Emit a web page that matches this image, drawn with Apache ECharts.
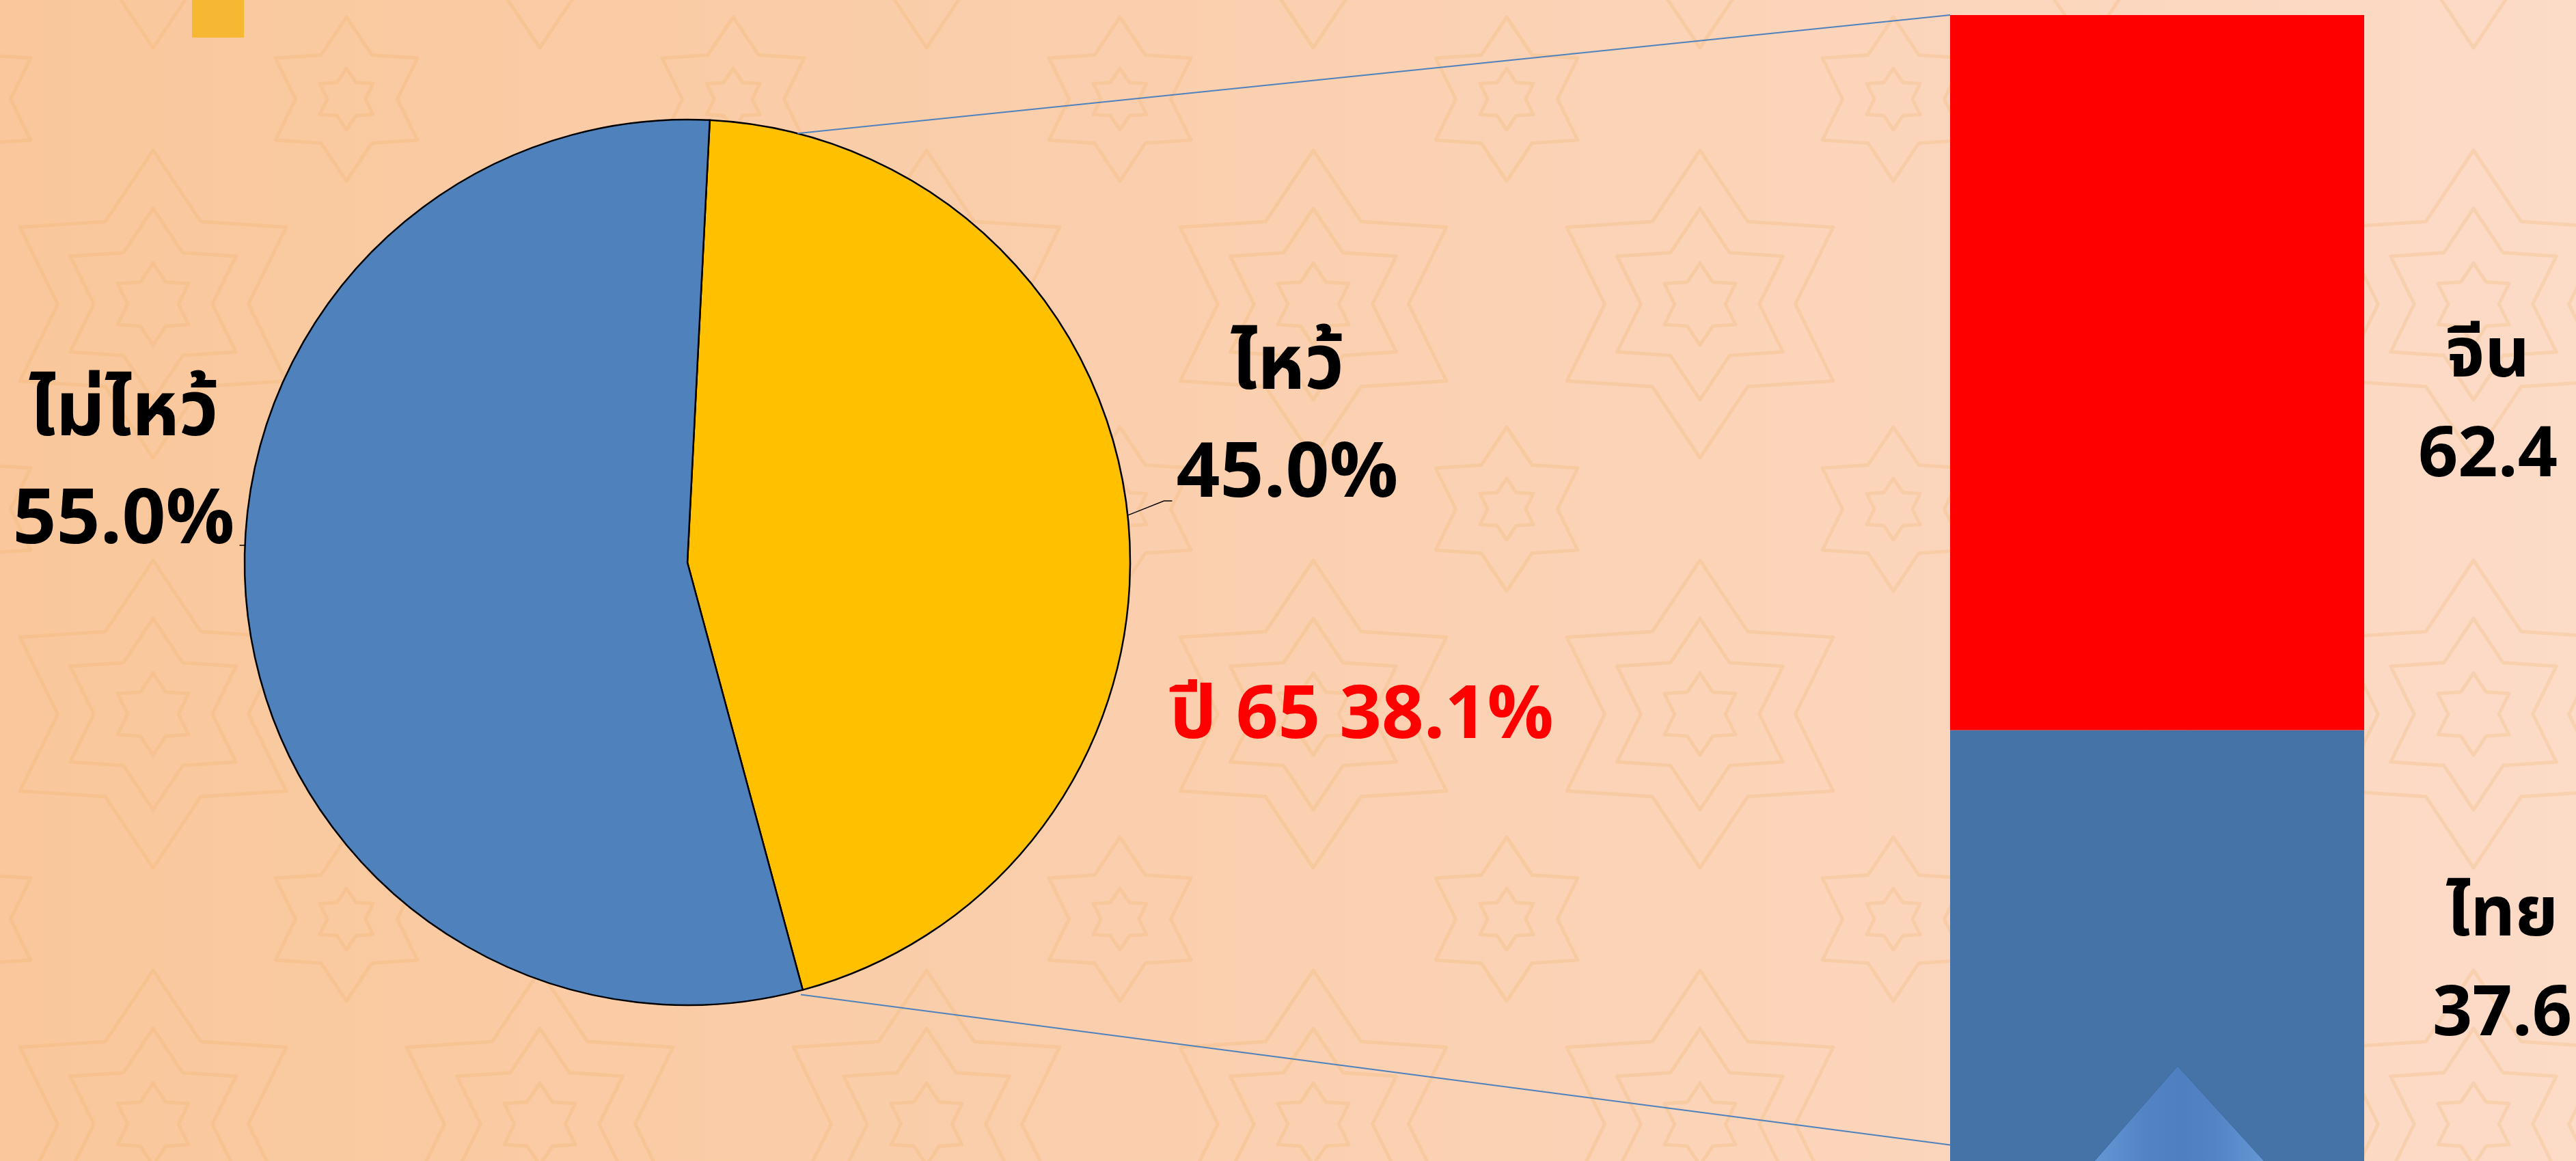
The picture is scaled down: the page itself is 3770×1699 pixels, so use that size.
<!DOCTYPE html>
<html>
<head>
<meta charset="utf-8">
<script src="https://cdn.jsdelivr.net/npm/echarts@6/dist/echarts.min.js"></script>
<style>
  html, body { margin: 0; padding: 0; }
  #chart { width: 3770px; height: 1699px; }
</style>
</head>
<body>
<div id="chart"></div>
<script>
// ข้อมูล
const pieNames = ['ไหว้', 'ไม่ไหว้']
const pieValues = [45.0, 55.0]
const barCategory = ['ไหว้']
const barNames = ['ไทย', 'จีน']
const barValues = [37.6, 62.4]
const noteText = 'ปี 65 38.1%'

const FONT = "'Noto Sans Thai', 'Noto Sans', Roboto, sans-serif"
const W = 3770, H = 1699
const pieCenter = [1006, 823]
const pieRadius = 648
const barGrid = { left: 2854, top: 22, width: 606, height: 1687 }

// point on the pie rim, angle measured clockwise from 12 o'clock
function rim(deg, r) {
  const a = deg * Math.PI / 180
  return [pieCenter[0] + r * Math.sin(a), pieCenter[1] - r * Math.cos(a)]
}

// faint star ornament behind the chart
function makeBackdrop() {
  const cv = document.createElement('canvas')
  cv.width = W
  cv.height = H
  const ctx = cv.getContext('2d')
  const tw = 566, th = 600
  ctx.strokeStyle = 'rgba(236, 172, 92, 0.22)'
  ctx.lineWidth = 5
  ctx.lineJoin = 'round'
  const star = (cx, cy, r) => {
    ctx.beginPath()
    for (let k = 0; k < 12; k++) {
      const rr = k % 2 ? r * 0.62 : r
      const a = Math.PI / 6 * k - Math.PI / 2
      const x = cx + rr * Math.cos(a), y = cy + rr * Math.sin(a)
      k ? ctx.lineTo(x, y) : ctx.moveTo(x, y)
    }
    ctx.closePath()
    ctx.stroke()
  }
  for (let ty = -1; ty <= Math.ceil(H / th); ty++) {
    for (let tx = -1; tx <= Math.ceil(W / tw); tx++) {
      const ox = tx * tw + 224, oy = ty * th + 445
      ;[60, 140, 225].forEach(r => star(ox, oy, r))
      ;[45, 120].forEach(r => star(ox + tw / 2, oy + th / 2, r))
    }
  }
  return cv
}

const chart = echarts.init(document.getElementById('chart'))

const option = {
  backgroundColor: {
    type: 'linear', x: 0, y: 0, x2: 1, y2: 0,
    colorStops: [
      { offset: 0, color: '#f9c79b' },
      { offset: 0.5, color: '#fbd0b0' },
      { offset: 1, color: '#fcdbc7' }
    ]
  },
  animation: false,
  grid: { ...barGrid },
  xAxis: { type: 'category', data: barCategory, show: false },
  yAxis: { type: 'value', min: 0, max: 100, show: false },
  series: [
    {
      type: 'pie',
      center: pieCenter,
      radius: pieRadius,
      startAngle: 87.1,
      clockwise: true,
      color: ['#ffc000', '#4f81bd'],
      itemStyle: { borderColor: '#000', borderWidth: 2.5 },
      emphasis: { disabled: true },
      label: {
        show: true,
        position: 'outside',
        overflow: 'none',
        formatter: p => `${p.name}\n${p.value.toFixed(1)}%`,
        fontFamily: FONT,
        fontWeight: 'bold',
        fontSize: 112,
        lineHeight: 158,
        color: '#000',
        align: 'center'
      },
      labelLine: { show: true, lineStyle: { color: '#000', width: 1.5 } },
      labelLayout: function (params) {
        const w = params.labelRect.width
        if (params.dataIndex === 0) {
          const cx = 1884, cy = 625
          const p2 = [cx - w / 2 - 6, cy + 108]
          return {
            x: cx, y: cy, align: 'center', verticalAlign: 'middle',
            labelLinePoints: [rim(83.9, pieRadius), [p2[0] - 12, p2[1]], p2]
          }
        }
        const cx = 181, cy = 693
        const p2 = [cx + w / 2 + 7, cy + 105]
        return {
          x: cx, y: cy, align: 'center', verticalAlign: 'middle',
          labelLinePoints: [rim(267.6, pieRadius), [p2[0] + 13, p2[1]], p2]
        }
      },
      data: pieNames.map((n, i) => ({ name: n, value: pieValues[i] }))
    },
    {
      type: 'bar',
      name: barNames[0],
      stack: 'total',
      barWidth: '100%',
      data: [barValues[0]],
      itemStyle: { color: '#4573a7' },
      emphasis: { disabled: true },
      label: {
        show: true,
        position: [808, '50%'],
        offset: [0, 38],
        align: 'center',
        verticalAlign: 'middle',
        formatter: '{a}\n{c}',
        fontFamily: FONT,
        fontWeight: 'bold',
        fontSize: 102,
        lineHeight: 146,
        color: '#000'
      }
    },
    {
      type: 'bar',
      name: barNames[1],
      stack: 'total',
      barWidth: '100%',
      data: [barValues[1]],
      itemStyle: { color: '#ff0000' },
      emphasis: { disabled: true },
      label: {
        show: true,
        position: [787, '50%'],
        offset: [0, 58],
        align: 'center',
        verticalAlign: 'middle',
        formatter: '{a}\n{c}',
        fontFamily: FONT,
        fontWeight: 'bold',
        fontSize: 102,
        lineHeight: 146,
        color: '#000'
      }
    }
  ]
}

chart.setOption(option)

// connectors from the pie to the stacked bar
const yTop = chart.convertToPixel({ yAxisIndex: 0 }, 100)
const yLow = chart.convertToPixel({ yAxisIndex: 0 }, 1.4)
const upStart = rim(14.4, pieRadius)
const lowStart = rim(165.3, pieRadius + 6)

chart.setOption({
  graphic: [
    {
      type: 'image', z: -10, silent: true,
      style: { image: makeBackdrop(), x: 0, y: 0, width: W, height: H }
    },
    {
      type: 'line', z: 5,
      shape: { x1: upStart[0], y1: upStart[1], x2: barGrid.left, y2: yTop },
      style: { stroke: '#4f81bd', lineWidth: 2 }
    },
    {
      type: 'line', z: 5,
      shape: { x1: lowStart[0], y1: lowStart[1], x2: barGrid.left, y2: yLow },
      style: { stroke: '#4f81bd', lineWidth: 2 }
    },
    {
      type: 'polygon', z: 10,
      shape: { points: [[3187, 1560], [3319, 1705], [3060, 1705]] },
      style: {
        fill: {
          type: 'linear', x: 0, y: 0, x2: 1, y2: 0,
          colorStops: [
            { offset: 0, color: '#6699d6' },
            { offset: 0.3, color: '#5383c3' },
            { offset: 0.5, color: '#4f7fbe' },
            { offset: 0.7, color: '#5383c3' },
            { offset: 1, color: '#6699d6' }
          ]
        },
        stroke: '#3f6ba2', lineWidth: 1
      }
    },
    {
      type: 'rect', z: 1,
      shape: { x: 281, y: 0, width: 76, height: 55 },
      style: { fill: '#f6b733' }
    },
    {
      type: 'text', z: 10,
      x: 1712, y: 1058,
      style: {
        text: noteText,
        fontFamily: FONT,
        fontWeight: 'bold',
        fontSize: 108,
        fill: '#ff0000',
        verticalAlign: 'middle'
      }
    }
  ]
})
</script>
</body>
</html>
